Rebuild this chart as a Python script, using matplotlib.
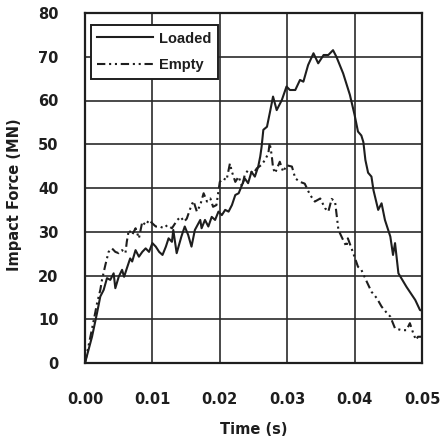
import matplotlib
matplotlib.use("Agg")
import matplotlib.pyplot as plt

# Data (time in s, force in MN)
loaded_t = [0, 0.00104, 0.00178, 0.00227, 0.00277, 0.00326, 0.00375, 0.00425, 0.0045, 0.005,
            0.0055, 0.0058, 0.0062, 0.0067, 0.0070, 0.0075, 0.0080, 0.0085, 0.0090, 0.0095,
            0.0100, 0.0105, 0.0110, 0.0115, 0.0120, 0.0124, 0.0129, 0.0131, 0.0136, 0.0143,
            0.0148, 0.0153, 0.0158, 0.0163, 0.0171, 0.0173, 0.0178, 0.0183, 0.0188, 0.0193,
            0.0198, 0.0203, 0.0208, 0.0213, 0.0218, 0.0223, 0.0228, 0.0233, 0.0237, 0.0242,
            0.0247, 0.0252, 0.0257, 0.0260, 0.0262, 0.02646, 0.0270, 0.02745, 0.0279, 0.02844,
            0.0292, 0.0299, 0.0304, 0.0312, 0.0319, 0.0324, 0.0331, 0.0339, 0.0346, 0.0354,
            0.0361, 0.0368, 0.0373, 0.0383, 0.0393, 0.0400, 0.0405, 0.0410, 0.0413, 0.0416,
            0.0420, 0.0425, 0.0428, 0.0435, 0.0440, 0.0445, 0.0453, 0.0457, 0.0460, 0.0465,
            0.0477, 0.0490, 0.0497, 0.0500]
loaded_f = [0, 6, 11.4, 15.2, 16.7, 19.4, 19, 20.5, 17.1, 19.7,
            21.3, 19.7, 21.6, 23.9, 23.2, 25.8, 24.3, 25.4, 26.2, 25.4,
            27.4, 26.6, 25.4, 24.7, 26.6, 28.5, 27.7, 30.4, 25.1, 28.9,
            31.2, 29.3, 26.6, 30.4, 32.7, 30.8, 32.7, 31.2, 33.4, 32.7,
            34.6, 33.8, 35, 34.6, 36.1, 38.4, 38.8, 40.7, 42.2, 41.1,
            43.7, 42.6, 44.9, 47.2, 49.4, 53.3, 54, 57.4, 60.9, 57.8,
            60.1, 63.2, 62.4, 62.4, 64.7, 64.3, 68.1, 70.8, 68.5, 70.4,
            70.4, 71.5, 70, 66.2, 61.3, 56.7, 52.9, 52, 50.5, 46.4,
            43.5, 42.6, 39.5, 35, 36.5, 32.7, 28.9, 24.7, 27.4, 20.5,
            17.4, 14.4, 12.1, 12]

empty_t = [0, 0.0008, 0.0013, 0.00178, 0.00227, 0.00252, 0.00302, 0.0035, 0.0040, 0.0045,
           0.0050, 0.0055, 0.0060, 0.0062, 0.0065, 0.0070, 0.0075, 0.0080, 0.0085, 0.0090,
           0.0095, 0.0100, 0.0105, 0.0111, 0.0117, 0.0122, 0.0129, 0.0137, 0.0142, 0.0147,
           0.0151, 0.0158, 0.0161, 0.0166, 0.0171, 0.0176, 0.0181, 0.0186, 0.0190, 0.0195,
           0.0200, 0.0205, 0.0210, 0.0215, 0.0218, 0.0223, 0.0228, 0.0233, 0.0237, 0.0242,
           0.0250, 0.0255, 0.0262, 0.0267, 0.0272, 0.0274, 0.0277, 0.0279, 0.0282, 0.0289,
           0.0294, 0.0299, 0.0307, 0.0312, 0.0319, 0.0326, 0.0334, 0.0341, 0.0349, 0.0356,
           0.0361, 0.0366, 0.0371, 0.0376, 0.0383, 0.0388, 0.0390, 0.0398, 0.0405, 0.0410,
           0.0418, 0.0425, 0.0433, 0.0440, 0.0448, 0.0453, 0.0460, 0.0470, 0.0477, 0.0482,
           0.0487, 0.0491, 0.0494, 0.0500]
empty_f = [0, 6, 9.8, 13.6, 16.7, 19, 22.4, 25.4, 26.2, 25.4,
           25.1, 25.8, 25.1, 27.7, 30.4, 29.3, 30.8, 28.5, 32.3, 31.5,
           32.7, 31.9, 31.2, 31.2, 30.8, 31.5, 30.8, 32.7, 33.4, 32.3,
           33, 36.1, 37, 34.6, 36.1, 38.8, 36.9, 37.6, 35.7, 36.1,
           41.4, 42.2, 41.8, 45.6, 43.7, 41.4, 42.6, 40.3, 43, 44.1,
           43.4, 44.5, 45.3, 46.4, 47.9, 50.3, 47.5, 44.6, 43.4, 46,
           43.7, 45.2, 44.9, 42.2, 41.4, 41, 38.4, 36.9, 37.6, 35.4,
           34.6, 37.5, 36.9, 30.4, 28.1, 26.6, 28.5, 25.1, 22, 21.3,
           18.6, 16.3, 14.8, 12.9, 11.4, 10.6, 7.9, 7.5, 7.5, 9.1,
           6.8, 5.3, 6, 6]

x_ticks = [0.00, 0.01, 0.02, 0.03, 0.04, 0.05]
x_tick_labels = ["0.00", "0.01", "0.02", "0.03", "0.04", "0.05"]
y_ticks = [0, 10, 20, 30, 40, 50, 60, 70, 80]
series_names = ["Loaded", "Empty"]
x_title = "Time (s)"
y_title = "Impact Force (MN)"

ink = "#1e1e1e"
tick_font = {"family": "DejaVu Sans", "weight": "bold", "size": 10.5}

fig = plt.figure(figsize=(4.40, 4.42), dpi=100)
fig.patch.set_facecolor("white")
ax = fig.add_axes([85 / 440, 1 - 363 / 442, 337 / 440, 350 / 442])

ax.plot(loaded_t, loaded_f, color=ink, lw=1.5, ls="-", label=series_names[0])
ax.plot(empty_t, empty_f, color=ink, lw=1.5, ls=(0, (4, 1.8, 1, 1.8, 1, 1.8)),
        label=series_names[1])

ax.set_xlim(0, 0.05)
ax.set_ylim(0, 80)
ax.set_xticks(x_ticks)
ax.set_xticklabels(x_tick_labels)
ax.set_yticks(y_ticks)
ax.grid(True, color="#2a2a2a", lw=1.2)
ax.set_axisbelow(True)
for s in ax.spines.values():
    s.set_color(ink)
    s.set_linewidth(1.6)

ax.tick_params(axis="both", length=0, colors=ink)
ax.tick_params(axis="x", pad=21)
ax.tick_params(axis="y", pad=19)
for lab in ax.get_xticklabels() + ax.get_yticklabels():
    lab.set_fontproperties(tick_font)

ax.set_xlabel(x_title, fontdict=tick_font, color=ink, va="center")
ax.xaxis.set_label_coords(0.5, (363 - 429) / 350)
ax.set_ylabel(y_title, fontdict=tick_font, color=ink, va="center")
ax.yaxis.set_label_coords((14 - 85) / 337, 0.48)

leg = ax.legend(loc="upper left", bbox_to_anchor=((90.7 - 85) / 337, (363 - 25) / 350),
                borderaxespad=0, frameon=True, fancybox=False,
                prop={"family": "Liberation Sans", "weight": "bold", "size": 10.5},
                handlelength=3.85, handletextpad=0.4, borderpad=0.45, labelspacing=0.85)
leg.get_frame().set_edgecolor(ink)
leg.get_frame().set_linewidth(1.4)
leg.get_frame().set_facecolor("white")
leg.get_frame().set_alpha(1)
for t in leg.get_texts():
    t.set_color(ink)

fig.savefig("out.png", dpi=100, facecolor="white")
